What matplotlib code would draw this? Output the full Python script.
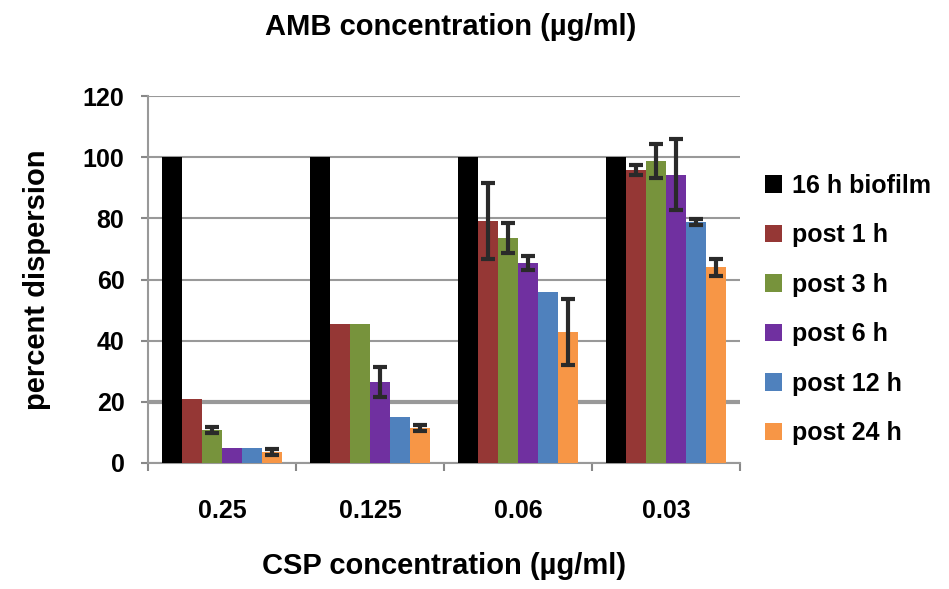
import matplotlib
matplotlib.use("Agg")
import matplotlib.pyplot as plt
import numpy as np

plt.rcParams['font.family'] = ['Liberation Sans', 'DejaVu Sans']

categories = ["0.25", "0.125", "0.06", "0.03"]
series = ["16 h biofilm", "post 1 h", "post 3 h", "post 6 h", "post 12 h", "post 24 h"]
colors = ["#000000", "#953735", "#77933C", "#7030A0", "#4F81BD", "#F79646"]

values = {
    "16 h biofilm": [100, 100, 100, 100],
    "post 1 h":     [21, 45.5, 79, 95.8],
    "post 3 h":     [10.8, 45.5, 73.6, 98.8],
    "post 6 h":     [5, 26.5, 65.5, 94.3],
    "post 12 h":    [5, 15.2, 55.8, 78.8],
    "post 24 h":    [3.5, 11.5, 42.8, 64],
}
errors = {
    "16 h biofilm": [0, 0, 0, 0],
    "post 1 h":     [0, 0, 12.4, 1.6],
    "post 3 h":     [1, 0, 5, 5.5],
    "post 6 h":     [0, 5, 2.3, 11.5],
    "post 12 h":    [0, 0, 0, 1],
    "post 24 h":    [1, 1, 10.8, 2.8],
}
yticks = [0, 20, 40, 60, 80, 100, 120]

fig = plt.figure(figsize=(9.49, 5.89), dpi=100)
ax = fig.add_axes([148/949, 1-463/589, (740-148)/949, (463-96)/589])

n = len(series)
bw = 0.135
x = np.arange(len(categories))
for i, s in enumerate(series):
    pos = x + (i - (n - 1) / 2) * bw
    err = errors[s]
    ax.bar(pos, values[s], width=bw, color=colors[i], label=s, zorder=3)
    for p, v, e in zip(pos, values[s], err):
        if e > 0:
            ax.errorbar(p, v, yerr=e, fmt='none', ecolor='#2a2a2a', elinewidth=3,
                        capsize=5, capthick=3, zorder=4)

ax.set_xlim(-0.5, len(categories) - 0.5)
ax.set_ylim(0, 120)
ax.set_yticks(yticks)
ax.set_xticks(x)
ax.set_xticklabels(categories)
ax.set_xticks(np.arange(-0.5, len(categories), 1.0), minor=True)
ax.tick_params(axis='x', which='major', length=0, pad=26, labelsize=18)
ax.tick_params(axis='x', which='minor', length=6, color='#888888', width=1.5)
ax.tick_params(axis='y', length=5, color='#888888', width=1.5, labelsize=18, pad=12)
for lab in ax.get_xticklabels() + ax.get_yticklabels():
    lab.set_fontweight('bold')
ax.grid(axis='y', color='#999999', linewidth=1.5, zorder=0)
ax.get_ygridlines()[1].set_linewidth(3)
for sp in ['top', 'right']:
    ax.spines[sp].set_visible(False)
for sp in ['left', 'bottom']:
    ax.spines[sp].set_color('#999999')
    ax.spines[sp].set_linewidth(1.5)

ax.set_ylabel("percent dispersion", fontsize=21, fontweight='bold')
ax.yaxis.set_label_coords((37 - 148) / (740 - 148), 0.5)
ax.set_xlabel("CSP concentration (µg/ml)", fontsize=21, fontweight='bold')
ax.xaxis.set_label_coords(0.5, -(566 - 463) / (463 - 96))
ax.xaxis.label.set_va('center')
ax.yaxis.label.set_va('center')
fig.text(451/949, 1-35/589, "AMB concentration (µg/ml)", fontsize=21, fontweight='bold',
         ha='center', va='baseline')

leg = ax.legend(loc='upper left', bbox_to_anchor=(1.025, 0.815), frameon=False,
                prop={'size': 18, 'weight': 'bold'}, handlelength=0.7, handleheight=0.7,
                handletextpad=0.4, labelspacing=1.02, borderaxespad=0)

fig.savefig("out.png", dpi=100)
